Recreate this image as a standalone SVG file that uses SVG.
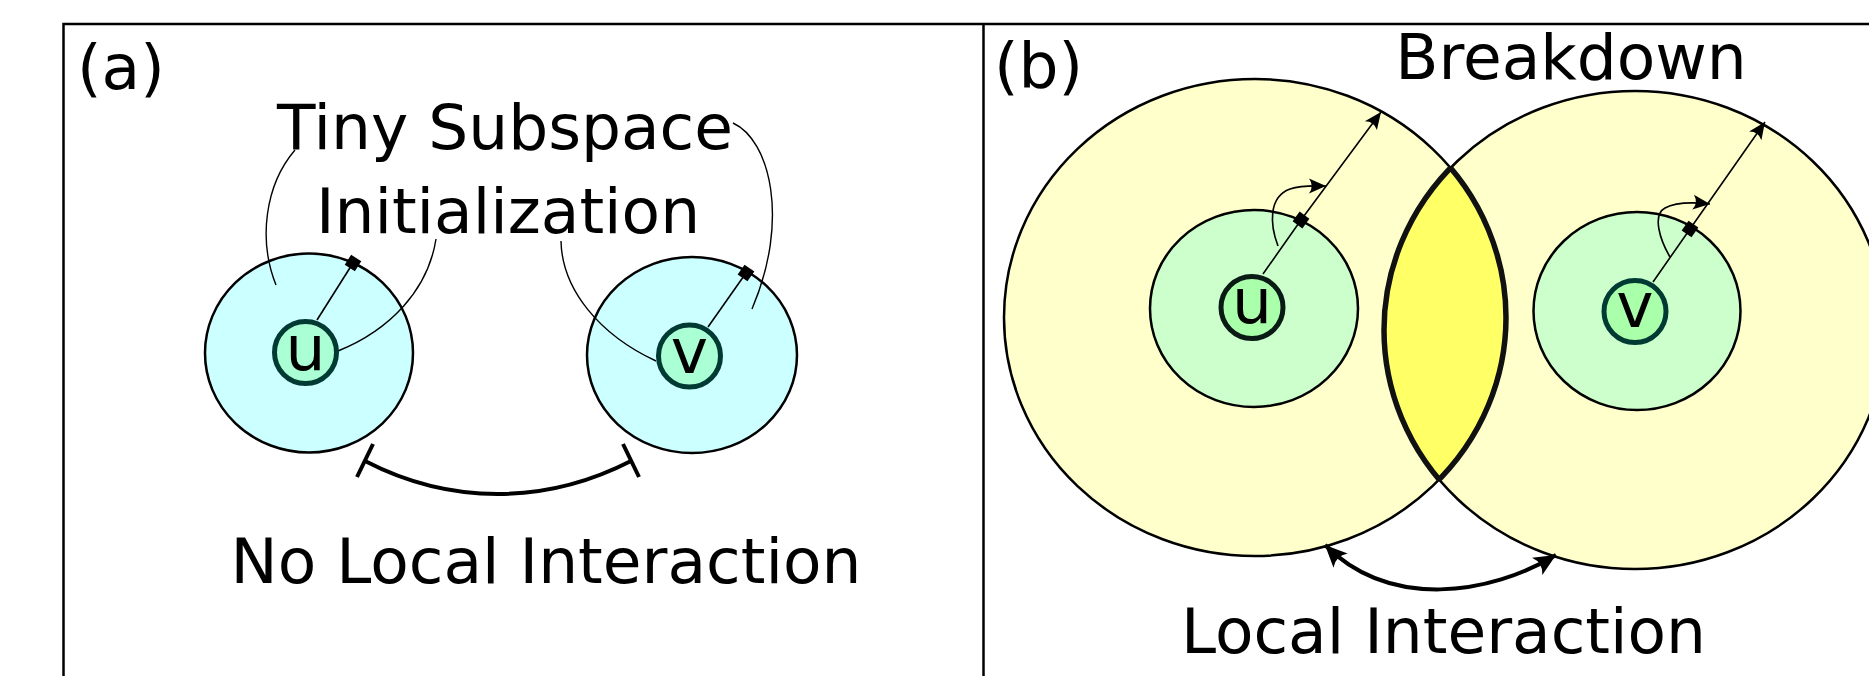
<svg xmlns="http://www.w3.org/2000/svg" width="1869" height="676" viewBox="0 0 1869 676">
<style>
text{font-family:"DejaVu Sans","Liberation Sans",sans-serif;fill:#000}
.lbl{font-size:63px}
.mid{text-anchor:middle}
.frame{fill:none;stroke:#000;stroke-width:2.5}
.outerA{fill:#ccffff;stroke:#000;stroke-width:2.5}
.big{fill:#ffffcc;stroke:#000;stroke-width:2.5}
.inner{fill:#ccffcc;stroke:#000;stroke-width:2.5}
.nodeA{fill:#aaffd4;stroke:#003a33;stroke-width:5}
.nodeB{fill:#aaffaa;stroke:#0a1a14;stroke-width:5}
.thin{fill:none;stroke:#000;stroke-width:1.4}
.rad{fill:none;stroke:#000;stroke-width:1.6}
.bold{fill:none;stroke:#000;stroke-width:4}
</style>
<defs>
<marker id="sq" markerUnits="userSpaceOnUse" markerWidth="20" markerHeight="20" viewBox="-10 -10 20 20" refX="0" refY="0" orient="auto">
<rect x="-6" y="-6" width="12" height="12" fill="#000"/>
</marker>
<marker id="arr" markerUnits="userSpaceOnUse" markerWidth="24" markerHeight="24" viewBox="-20 -12 24 24" refX="0" refY="0" orient="auto">
<path d="M0,0 L-17,-7.5 Q-11.5,0 -17,7.5 Z" fill="#000"/>
</marker>
<marker id="arrBig" markerUnits="userSpaceOnUse" markerWidth="30" markerHeight="30" viewBox="-26 -15 30 30" refX="0" refY="0" orient="auto-start-reverse">
<path d="M0,0 L-22,-10 Q-15,0 -22,10 Z" fill="#000"/>
</marker>
<clipPath id="cL"><ellipse cx="1255" cy="317.5" rx="251" ry="238.5"/></clipPath>
<clipPath id="cR"><ellipse cx="1635" cy="330" rx="251" ry="239"/></clipPath>
</defs>
<rect width="1869" height="676" fill="#fff"/>
<g id="frame">
<rect class="frame" x="63.5" y="24" width="1840" height="700"/>
<line class="frame" x1="983.5" y1="24" x2="983.5" y2="676"/>
</g>
<g id="panel-a-label"><text class="lbl" x="77" y="89">(a)</text></g>
<g id="panel-b-label"><text class="lbl" x="994" y="87">(b)</text></g>

<g id="region-u-a"><ellipse class="outerA" cx="309" cy="353" rx="104" ry="99.5"/></g>
<g id="region-v-a"><ellipse class="outerA" cx="692" cy="355" rx="105" ry="98"/></g>

<g id="big-u"><ellipse class="big" cx="1255" cy="317.5" rx="251" ry="238.5"/></g>
<g id="big-v"><ellipse class="big" cx="1635" cy="330" rx="251" ry="239"/></g>
<g id="breakdown-lens">
<ellipse cx="1635" cy="330" rx="251" ry="239" fill="#ffff66" clip-path="url(#cL)"/>
<ellipse cx="1635" cy="330" rx="251" ry="239" fill="none" stroke="#111" stroke-width="5.5" clip-path="url(#cL)"/>
<ellipse cx="1255" cy="317.5" rx="251" ry="238.5" fill="none" stroke="#111" stroke-width="5.5" clip-path="url(#cR)"/>
</g>
<g id="inner-u"><ellipse class="inner" cx="1254" cy="308.5" rx="104" ry="98.5"/></g>
<g id="inner-v"><ellipse class="inner" cx="1637" cy="311" rx="103.5" ry="99"/></g>

<g id="connectors">
<path class="rad" d="M317,320 L353,263" marker-end="url(#sq)"/>
<path class="rad" d="M708,327 L746,273" marker-end="url(#sq)"/>
<path class="thin" d="M295,150 C265,185 258,240 276,285"/>
<path class="thin" d="M733,123 C770,140 790,220 752,309"/>
<path class="thin" d="M436,239 C428,290 390,330 338,351"/>
<path class="thin" d="M561,241 C562,290 600,335 656,361"/>
<path class="bold" d="M365,461 C450,505 545,505 631,461"/>
<line class="bold" x1="373" y1="444" x2="357" y2="477"/>
<line class="bold" x1="623" y1="444" x2="639" y2="477"/>
<path class="rad" d="M1263,274 L1301,220 L1381,112" marker-mid="url(#sq)" marker-end="url(#arr)"/>
<path class="rad" d="M1653,282 L1690,229 L1765,122" marker-mid="url(#sq)" marker-end="url(#arr)"/>
<path class="rad" d="M1278,246 C1270,225 1268,197 1290,189 C1302,185 1312,186 1326,186" marker-end="url(#arr)"/>
<path class="rad" d="M1670,257 C1660,240 1652,215 1665,208 C1676,202 1692,202 1710,204" marker-end="url(#arr)"/>
<path class="bold" d="M1325,545 C1390,610 1490,595 1556,555" marker-start="url(#arrBig)" marker-end="url(#arrBig)"/>
</g>

<g id="node-u-a"><circle class="nodeA" cx="305.5" cy="352.5" r="31"/><text class="lbl mid" x="305.5" y="370">u</text></g>
<g id="node-v-a"><circle class="nodeA" cx="689.5" cy="356" r="31"/><text class="lbl mid" x="689.5" y="373">v</text></g>
<g id="node-u-b"><circle class="nodeB" cx="1252" cy="307.5" r="31"/><text class="lbl mid" x="1252" y="323">u</text></g>
<g id="node-v-b"><circle class="nodeB" cx="1635" cy="311.5" r="31" style="stroke:#003a33"/><text class="lbl mid" x="1635" y="327">v</text></g>

<g id="labels">
<text class="lbl mid" x="505" y="149">Tiny Subspace</text>
<text class="lbl mid" x="508" y="233">Initialization</text>
<text class="lbl mid" x="546" y="583">No Local Interaction</text>
<text class="lbl mid" x="1571" y="79">Breakdown</text>
<text class="lbl mid" x="1443.5" y="653">Local Interaction</text>
</g>
</svg>
